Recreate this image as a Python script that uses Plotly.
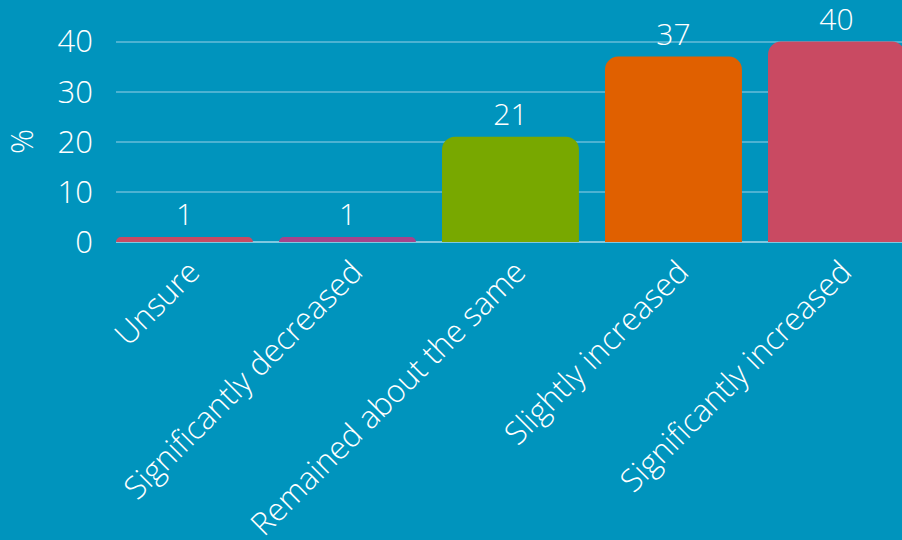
import plotly.graph_objects as go

# Survey responses (% of respondents)
categories = [
    "Unsure",
    "Significantly decreased",
    "Remained about the same",
    "Slightly increased",
    "Significantly increased",
]
values = [1, 1, 21, 37, 40]
bar_colors = ["#C94A62", "#A5448B", "#78A800", "#E06000", "#C94A62"]
y_ticks = [0, 10, 20, 30, 40]

BG = "#0094BD"
FONT = "Open Sans"
SIZE = 31

fig = go.Figure(
    go.Bar(
        x=categories,
        y=values,
        marker=dict(color=bar_colors, line=dict(width=0), cornerradius=13),
        text=[str(v) for v in values],
        textposition="outside",
        textfont=dict(family=FONT, size=30, color="white", weight=300),
        cliponaxis=False,
        hoverinfo="skip",
    )
)

fig.update_layout(
    width=902,
    height=540,
    margin=dict(l=116, r=0, t=0, b=298),
    paper_bgcolor=BG,
    plot_bgcolor=BG,
    bargap=0.16,
    showlegend=False,
    font=dict(family=FONT, color="white", size=SIZE, weight=300),
)

fig.update_xaxes(
    type="category",
    range=[-0.42, 4.402],
    tickangle=-45,
    tickfont=dict(family=FONT, size=31.5, color="white", weight=300),
    ticklabelshift=6,
    ticklabelstandoff=4,
    automargin=False,
    showgrid=False,
    showline=False,
    ticks="",
)

fig.update_yaxes(
    range=[0, 48.3],
    tickvals=y_ticks,
    tickfont=dict(family=FONT, size=SIZE, color="white", weight=300),
    gridcolor="#4DB2D2",
    gridwidth=1.5,
    zeroline=True,
    zerolinecolor="#7FC8E0",
    zerolinewidth=1.5,
    showline=False,
    ticks="",
    ticklabelstandoff=22,
    automargin=False,
)

# Axis title, placed beside the tick labels
fig.add_annotation(
    text="%",
    xref="paper",
    yref="paper",
    x=-0.121,
    y=0.417,
    xanchor="center",
    yanchor="middle",
    textangle=-90,
    showarrow=False,
    font=dict(family=FONT, size=SIZE, color="white", weight=300),
)

fig.write_html("out.html")
